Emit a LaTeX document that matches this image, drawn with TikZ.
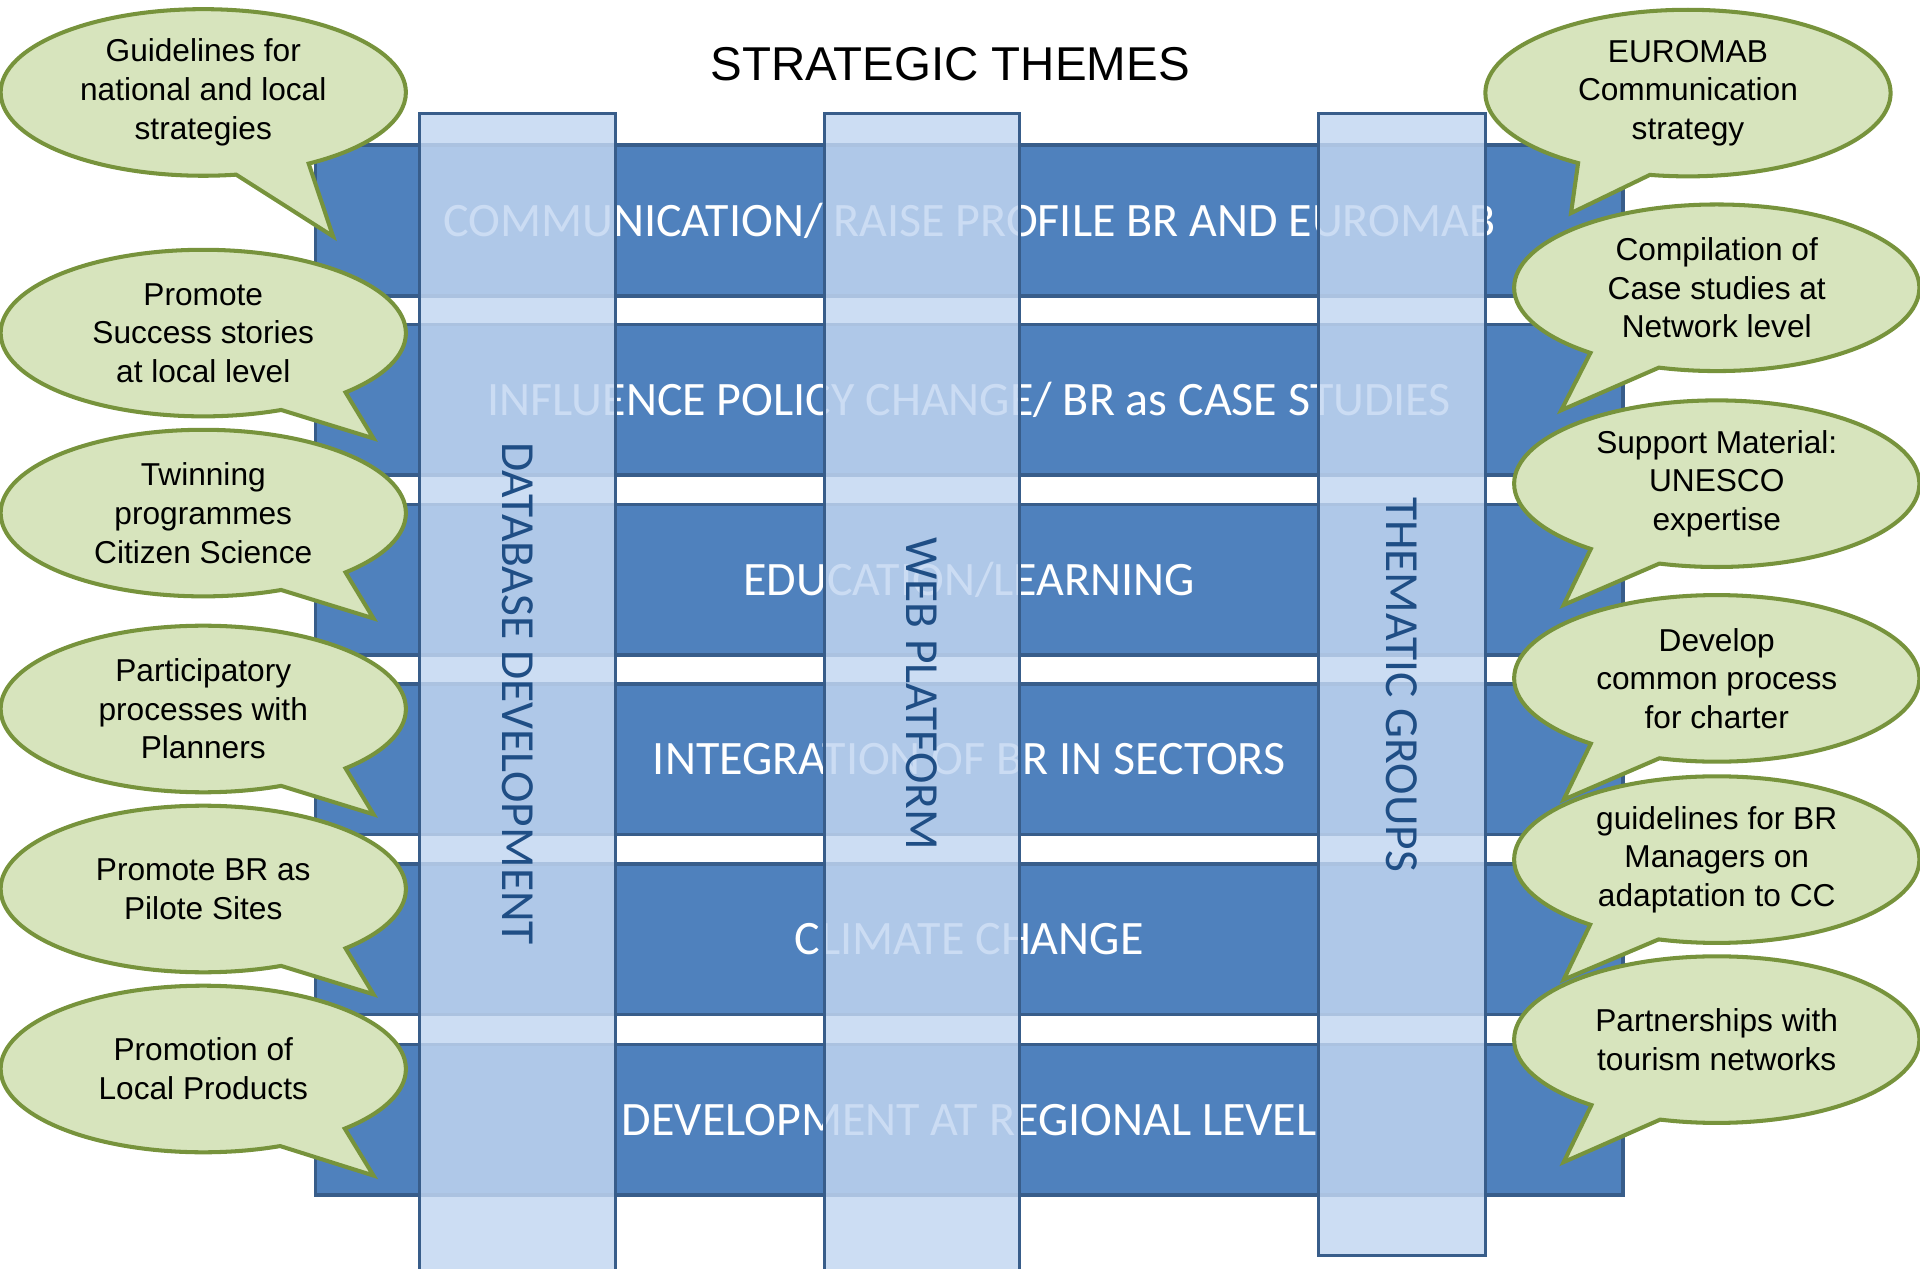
\documentclass[tikz,border=0pt]{standalone}
\usepackage{fontspec}
\setmainfont{Liberation Sans}
\newfontfamily\calibri{Carlito}
\usetikzlibrary{shapes.callouts}
\definecolor{barblue}{HTML}{4F81BD}
\definecolor{barline}{HTML}{385D8A}
\definecolor{colblue}{HTML}{C2D6F1}
\definecolor{coltext}{HTML}{1F4E85}
\definecolor{bubblefill}{HTML}{D7E4BD}
\definecolor{bubbleline}{HTML}{77933C}
\begin{document}
\begin{tikzpicture}
[x=0.012245cm,y=-0.012245cm,
  themebar/.style={rectangle,draw=barline,line width=1.1pt,fill=barblue,
    minimum width=13.065cm,minimum height=1.506cm,inner sep=0pt,
    text=white,font=\calibri\fontsize{13.65}{16}\selectfont},
  pillar/.style={rectangle,rotate=-90,draw=barline,line width=0.9pt,
    fill=colblue,fill opacity=0.84,text opacity=1,minimum height=1.955cm,
    inner sep=0pt,text=coltext,font=\calibri\fontsize{13.5}{16}\selectfont},
  bubble/.style={ellipse callout,draw=bubbleline,line width=1.15pt,
    fill=bubblefill,minimum width=4.05cm,minimum height=1.665cm,inner sep=0pt,
    callout pointer arc=22,align=center,font=\fontsize{9}{11}\selectfont}]
\useasboundingbox (0,0) rectangle (1568,1036);
% title
\node (title) at (776,52) [font=\fontsize{13.5}{16}\selectfont] {STRATEGIC THEMES};
% theme bars
\node (comm) at (791.5,180) [themebar] {COMMUNICATION/ RAISE PROFILE BR AND EUROMAB};
\node (infl) at (791.5,326.5) [themebar] {INFLUENCE POLICY CHANGE/ BR as CASE STUDIES};
\node (edu) at (791.5,473.5) [themebar] {EDUCATION/LEARNING};
\node (integ) at (791.5,620) [themebar] {INTEGRATION OF BR IN SECTORS};
\node (climate) at (791.5,767) [themebar] {CLIMATE CHANGE};
\node (region) at (791.5,914.5) [themebar] {DEVELOPMENT AT REGIONAL LEVEL};
% columns across the bars
\node (db) at (422.5,566.5) [pillar,minimum width=11.6cm] {DATABASE DEVELOPMENT};
\node (web) at (753,566.5) [pillar,minimum width=11.6cm] {WEB PLATFORM};
\node (thematic) at (1145,559) [pillar,minimum width=11.41cm,minimum height=1.665cm] {THEMATIC GROUPS};
% bubbles on the left
\node (guide) at (166,75.5) [bubble,callout absolute pointer={(272,193)}] {Guidelines for\\national and local\\strategies};
\node (success) at (166,272) [bubble,callout absolute pointer={(305,358)}] {Promote\\Success stories\\at local level};
\node (twin) at (166,419) [bubble,callout absolute pointer={(305,505)}] {Twinning\\programmes\\Citizen Science};
\node (planners) at (166,579) [bubble,callout absolute pointer={(305,665)}] {Participatory\\processes with\\Planners};
\node (pilot) at (166,726) [bubble,callout absolute pointer={(305,812)}] {Promote BR as\\Pilote Sites};
\node (products) at (166,873) [bubble,callout absolute pointer={(305,960)}] {Promotion of\\Local Products};
% bubbles on the right
\node (euromab) at (1378.5,76) [bubble,callout absolute pointer={(1283,174)}] {EUROMAB\\Communication\\strategy};
\node (cases) at (1402,235) [bubble,callout absolute pointer={(1275,335)}] {Compilation of\\Case studies at\\Network level};
\node (support) at (1402,395) [bubble,callout absolute pointer={(1277,494)}] {Support Material:\\UNESCO\\expertise};
\node (charter) at (1402,554) [bubble,callout absolute pointer={(1277,653)}] {Develop\\common process\\for charter};
\node (managers) at (1402,702) [bubble,callout absolute pointer={(1277,800)}] {guidelines for BR\\Managers on\\adaptation to CC};
\node (tourism) at (1402,849) [bubble,callout absolute pointer={(1277,949)}] {Partnerships with\\tourism networks};
\end{tikzpicture}
\end{document}
